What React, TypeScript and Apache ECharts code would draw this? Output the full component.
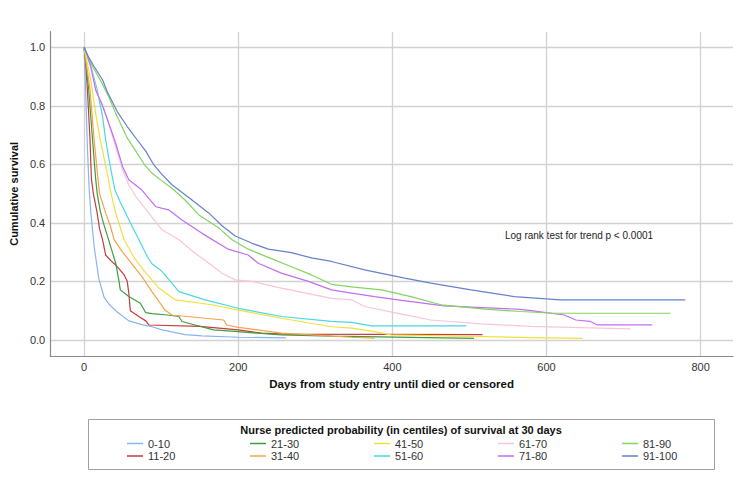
import React, { useEffect, useRef } from "react";
import * as echarts from "echarts";

const groupNames = ["0-10", "11-20", "21-30", "31-40", "41-50", "51-60", "61-70", "71-80", "81-90", "91-100"];
const groupColors = ["#86b6f2", "#c43c3c", "#3f9c3f", "#f5a34a", "#f0e040", "#48d8e0", "#fac4dc", "#c26ef2", "#84d462", "#6482cc"];

const km0_10: [number, number][] = [[0, 1], [2, 0.85], [4.4, 0.65], [6.5, 0.52], [8.6, 0.44], [13, 0.32], [19, 0.21], [26, 0.145], [33, 0.12], [43, 0.095], [58, 0.065], [75, 0.052], [88, 0.045], [100, 0.035], [131, 0.018], [153, 0.014], [200, 0.009], [262, 0.007]];
const km11_20: [number, number][] = [[0, 1], [2, 0.95], [4.3, 0.854], [7.7, 0.683], [9.5, 0.55], [12, 0.5], [17, 0.433], [20, 0.38], [24, 0.342], [28, 0.29], [35, 0.27], [41, 0.256], [52, 0.222], [56, 0.2], [58, 0.16], [60, 0.1], [71, 0.08], [80, 0.065], [84, 0.051], [150, 0.046], [200, 0.034], [230, 0.023], [260, 0.02], [517, 0.018]];
const km21_30: [number, number][] = [[0, 1], [2, 0.95], [6, 0.854], [11, 0.683], [15, 0.55], [17, 0.5], [21, 0.44], [25, 0.4], [32, 0.34], [41, 0.262], [45, 0.205], [47, 0.171], [58, 0.148], [73, 0.125], [80, 0.093], [88, 0.09], [108, 0.085], [123, 0.08], [127, 0.063], [144, 0.051], [168, 0.034], [200, 0.028], [256, 0.017], [321, 0.013], [506, 0.005]];
const km31_40: [number, number][] = [[0, 1], [2, 0.96], [7.7, 0.854], [13, 0.683], [18, 0.55], [20, 0.5], [28, 0.433], [34, 0.39], [39, 0.342], [50, 0.3], [62, 0.26], [75, 0.216], [88, 0.165], [105, 0.102], [114, 0.085], [157, 0.074], [181, 0.068], [185, 0.051], [200, 0.043], [256, 0.023], [347, 0.009], [377, 0.006]];
const km41_50: [number, number][] = [[0, 1], [3, 0.96], [8.6, 0.888], [15, 0.774], [21, 0.683], [30, 0.57], [34, 0.512], [41, 0.433], [52, 0.342], [65, 0.28], [78, 0.235], [88, 0.205], [97, 0.177], [118, 0.137], [166, 0.12], [200, 0.102], [256, 0.074], [321, 0.045], [347, 0.04], [377, 0.028], [398, 0.017], [580, 0.008], [647, 0.005]];
const km51_60: [number, number][] = [[0, 1], [3, 0.98], [6.5, 0.957], [17, 0.854], [24, 0.763], [28, 0.683], [34, 0.592], [40, 0.512], [47, 0.47], [60, 0.4], [69, 0.353], [82, 0.285], [88, 0.26], [99, 0.239], [105, 0.222], [123, 0.165], [157, 0.137], [200, 0.108], [256, 0.08], [321, 0.063], [347, 0.06], [373, 0.048], [496, 0.048]];
const km61_70: [number, number][] = [[0, 1], [4, 0.97], [9, 0.93], [16, 0.85], [24, 0.8], [32, 0.74], [41, 0.66], [50, 0.58], [58, 0.53], [67, 0.49], [84, 0.433], [101, 0.376], [123, 0.342], [144, 0.296], [162, 0.262], [179, 0.228], [196, 0.205], [218, 0.2], [256, 0.177], [321, 0.142], [347, 0.137], [364, 0.114], [412, 0.088], [450, 0.068], [515, 0.055], [580, 0.046], [709, 0.038]];
const km71_80: [number, number][] = [[0, 1], [3, 0.98], [8.6, 0.934], [15, 0.854], [24, 0.8], [32, 0.74], [41, 0.672], [50, 0.592], [58, 0.547], [75, 0.512], [93, 0.455], [110, 0.444], [127, 0.41], [153, 0.364], [187, 0.31], [213, 0.29], [226, 0.262], [256, 0.228], [291, 0.2], [321, 0.171], [347, 0.16], [377, 0.148], [412, 0.135], [467, 0.116], [562, 0.105], [580, 0.1], [623, 0.085], [638, 0.068], [657, 0.063], [666, 0.051], [737, 0.051]];
const km81_90: [number, number][] = [[0, 1], [5, 0.97], [11, 0.934], [21, 0.888], [32, 0.831], [41, 0.774], [47, 0.74], [56, 0.69], [67, 0.645], [78, 0.6], [88, 0.57], [100, 0.545], [114, 0.518], [131, 0.478], [149, 0.427], [175, 0.382], [192, 0.342], [213, 0.31], [239, 0.282], [269, 0.25], [295, 0.222], [321, 0.19], [350, 0.18], [386, 0.171], [424, 0.148], [463, 0.12], [520, 0.105], [567, 0.097], [610, 0.091], [761, 0.091]];
const km91_100: [number, number][] = [[0, 1], [5, 0.97], [13, 0.934], [24, 0.888], [30, 0.848], [43, 0.78], [56, 0.729], [69, 0.683], [80, 0.645], [90, 0.6], [100, 0.568], [114, 0.53], [140, 0.478], [162, 0.433], [179, 0.39], [196, 0.355], [218, 0.33], [239, 0.31], [269, 0.298], [295, 0.28], [321, 0.268], [364, 0.239], [416, 0.211], [450, 0.194], [502, 0.171], [558, 0.148], [618, 0.137], [780, 0.137]];

const groupData = [km0_10, km11_20, km21_30, km31_40, km41_50, km51_60, km61_70, km71_80, km81_90, km91_100];

const xAxisTitle = "Days from study entry until died or censored";
const yAxisTitle = "Cumulative survival";
const legendTitle = "Nurse predicted probability (in centiles) of survival at 30 days";
const annotation = "Log rank test for trend p < 0.0001";

const FONT = "'Liberation Sans', Arial, sans-serif";
const legendColX = [127, 250, 374, 498, 622];
const legendRowY = [445, 457.5];

export default function App() {
  const ref = useRef<HTMLDivElement>(null);
  useEffect(() => {
    const chart = echarts.init(ref.current!, null, { renderer: "svg" });
    chart.setOption({
      animation: false,
      backgroundColor: "#ffffff",
      textStyle: { fontFamily: FONT },
      grid: { left: 47.7, right: 17, top: 31.7, bottom: 145 },
      xAxis: {
        type: "value",
        min: -44,
        max: 842,
        splitNumber: 5,
        minInterval: 200,
        maxInterval: 200,
        name: xAxisTitle,
        nameLocation: "middle",
        nameGap: 22,
        nameTextStyle: { fontSize: 11.5, fontWeight: "bold", color: "#111", fontFamily: FONT },
        axisLine: { show: true, onZero: false, lineStyle: { color: "#8a8a8a", width: 1.2 } },
        axisTick: { show: false },
        axisLabel: { showMinLabel: false, showMaxLabel: false, fontSize: 11, color: "#333", margin: 5, fontFamily: FONT },
        splitLine: { show: true, showMinLine: false, showMaxLine: false, lineStyle: { color: "#d2d2d2", width: 1.3 } },
      },
      yAxis: {
        type: "value",
        min: -0.055,
        max: 1.053,
        splitNumber: 5,
        minInterval: 0.2,
        maxInterval: 0.2,
        name: yAxisTitle,
        nameLocation: "middle",
        nameGap: 25,
        nameRotate: 90,
        nameTextStyle: { fontSize: 11, fontWeight: "bold", color: "#111", fontFamily: FONT },
        axisLine: { show: true, onZero: false, lineStyle: { color: "#8a8a8a", width: 1.2 } },
        axisTick: { show: false },
        axisLabel: {
          showMinLabel: false,
          showMaxLabel: false,
          fontSize: 11,
          color: "#333",
          margin: 5,
          fontFamily: FONT,
          formatter: (v: number) => v.toFixed(1),
        },
        splitLine: { show: true, showMinLine: false, showMaxLine: false, lineStyle: { color: "#d2d2d2", width: 1.3 } },
      },
      legend: groupNames.map((n, i) => ({
        data: [n],
        left: legendColX[Math.floor(i / 2)],
        top: legendRowY[i % 2] - 7,
        padding: 0,
        icon: "rect",
        itemWidth: 16,
        itemHeight: 1.5,
        itemGap: 2,
        selectedMode: false,
        textStyle: { fontSize: 11, color: "#333", fontFamily: FONT },
      })),
      graphic: [
        {
          type: "rect",
          shape: { x: 88.5, y: 419.5, width: 626, height: 50 },
          style: { fill: "none", stroke: "#a0a0a0", lineWidth: 1 },
          silent: true,
        },
        {
          type: "text",
          x: 401,
          y: 429.5,
          style: { text: legendTitle, fill: "#111", font: `bold 11px ${FONT}`, align: "center", verticalAlign: "middle" },
          silent: true,
        },
        {
          type: "text",
          x: 579,
          y: 235,
          style: { text: annotation, fill: "#222", font: `10px ${FONT}`, align: "center", verticalAlign: "middle" },
          silent: true,
        },
      ],
      series: groupNames.map((n, i) => ({
        type: "line",
        name: n,
        data: groupData[i],
        showSymbol: false,
        symbol: "none",
        clip: false,
        color: groupColors[i],
        lineStyle: { width: 1.2, color: groupColors[i] },
        itemStyle: { color: groupColors[i] },
      })),
    });
    return () => chart.dispose();
  }, []);
  return <div ref={ref} style={{ position: "fixed", left: 0, top: 0, width: 750, height: 501, background: "#fff" }} />;
}
